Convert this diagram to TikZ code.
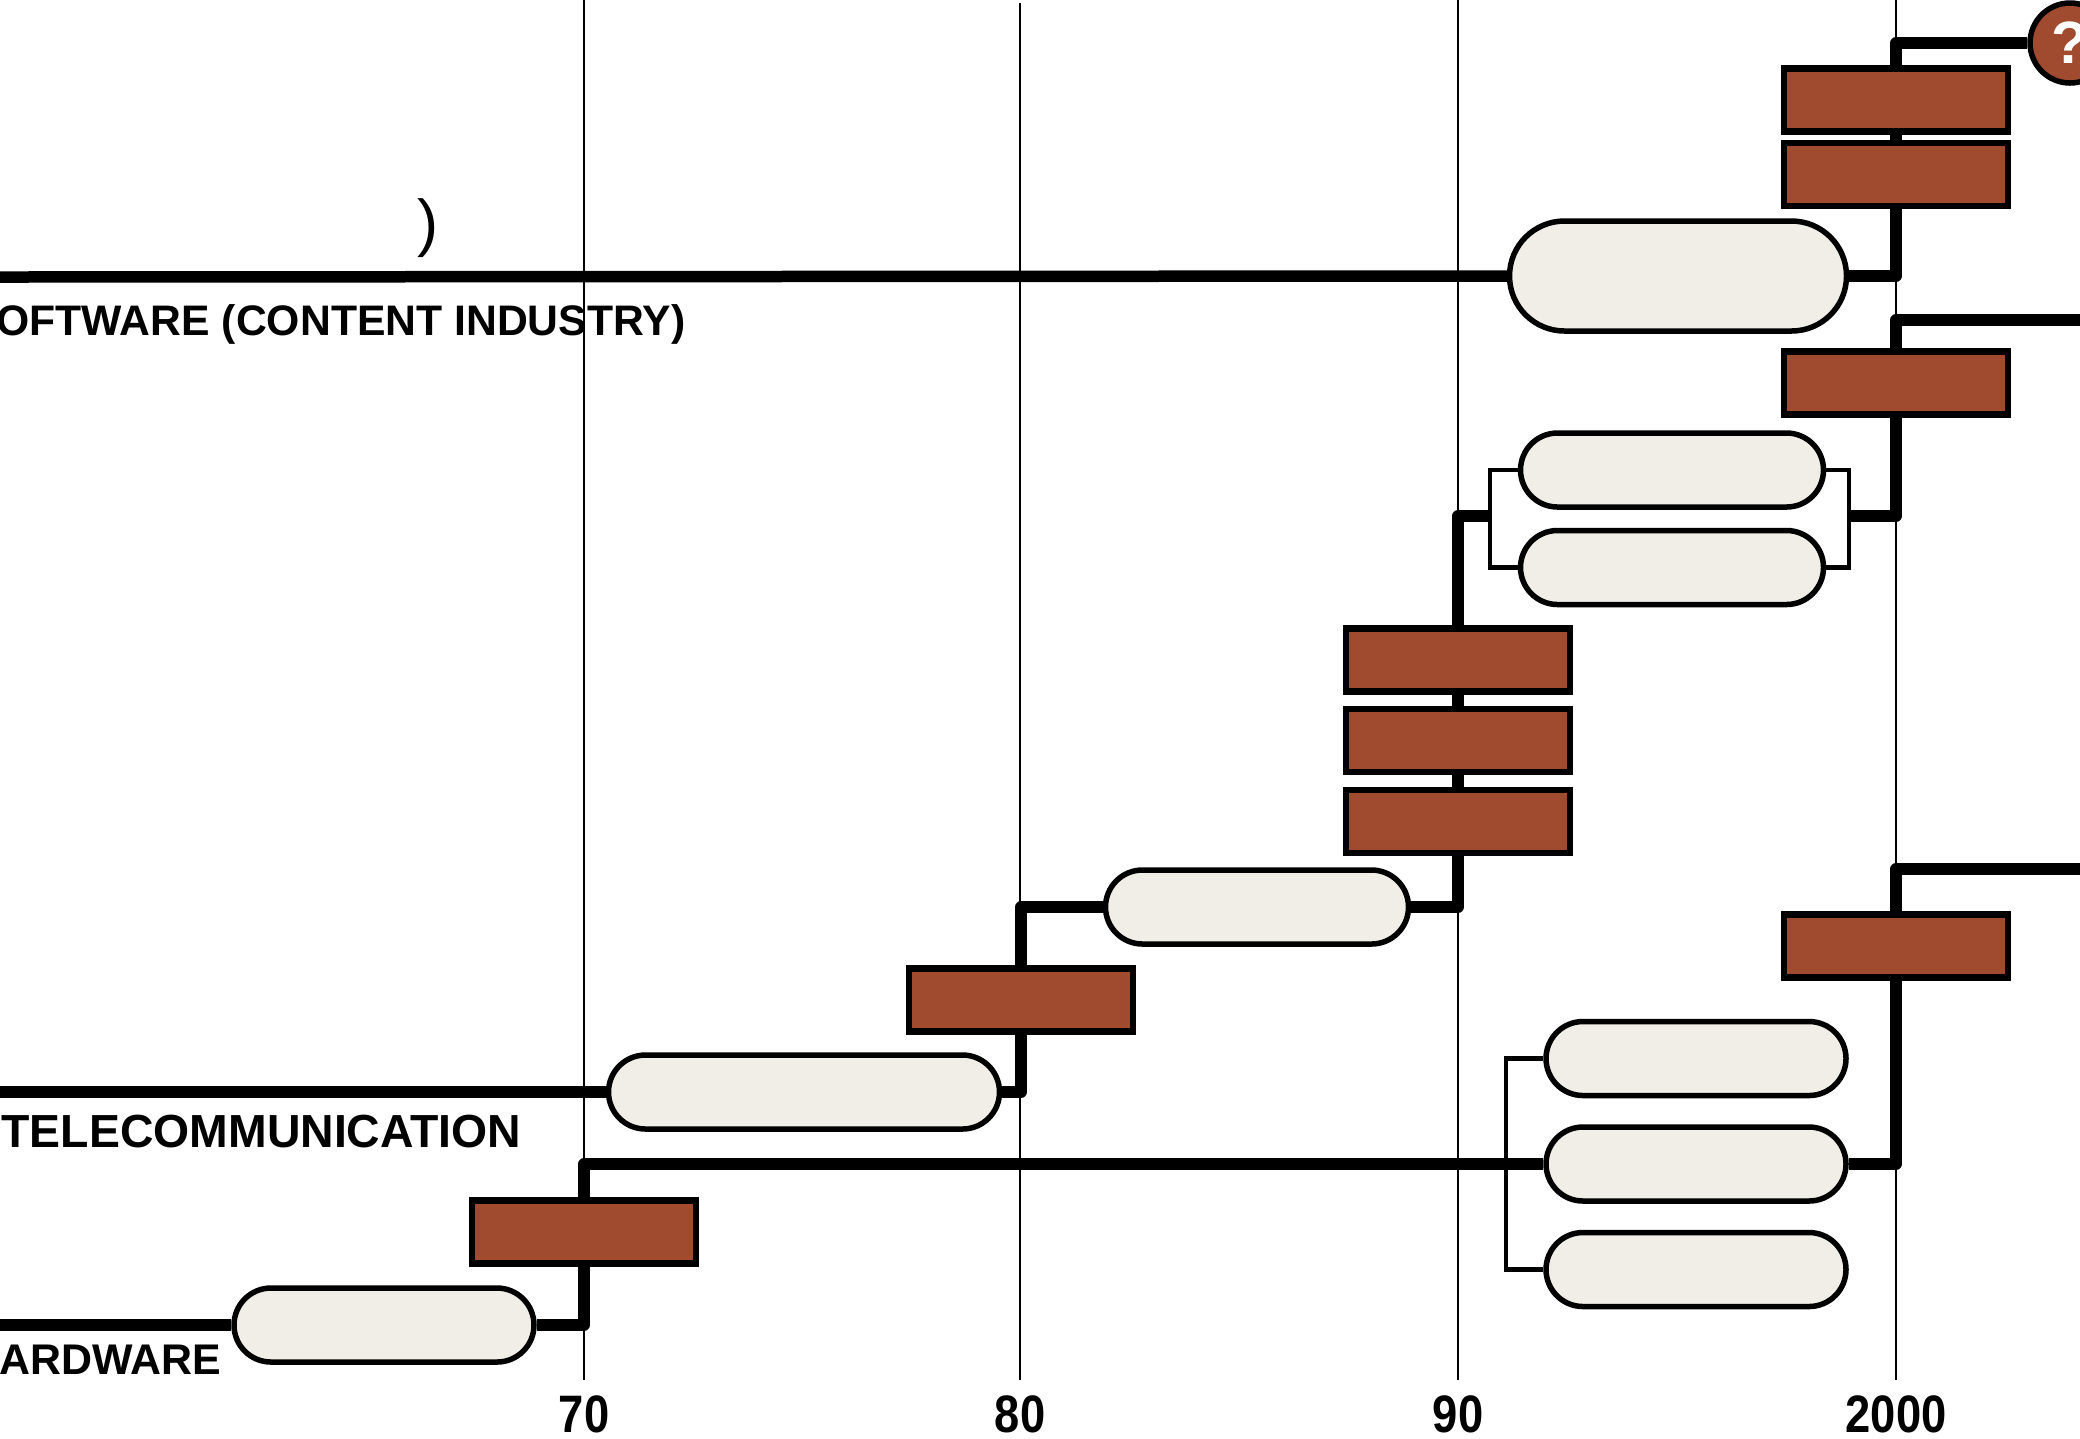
\documentclass[tikz,border=0pt]{standalone}
\usepackage{graphicx}
\usepackage{fontspec}
\setmainfont{Liberation Sans}
\usetikzlibrary{positioning}
\definecolor{brick}{RGB}{160,74,47}
\definecolor{shell}{RGB}{241,238,231}
\tikzset{era/.style={draw, line width=0.62mm, fill=brick, minimum width=22.4mm,
        minimum height=6.3mm, inner sep=0pt},
    phase/.style={draw, line width=0.55mm, fill=shell, rounded corners=3.7mm,
        minimum width=30mm, minimum height=7.4mm, inner sep=0pt},
    track/.style={line width=1.15mm, line join=round},
    link/.style={line width=0.45mm},
    grid/.style={line width=0.17mm},
    lane/.style={font=\bfseries\fontsize{12.15}{14}\selectfont, inner sep=0pt},
    year/.style={font=\bfseries\fontsize{15}{18}\selectfont, inner sep=0pt}}

\begin{document}
\begin{tikzpicture}[x=0.1mm, y=-0.1mm, node distance=1.15mm]
    \useasboundingbox (0,0) rectangle (2080,1438);
    \clip (0,0) rectangle (2080,1438);
    % decades
    \foreach \x/\yr/\top in {584/70/0, 1020/80/3, 1458/90/0, 1896/2000/0} {
        \draw[grid] (\x,\top) -- (\x,1380);
        \node[year, anchor=base] (y\yr) at (\x,1432) {\scalebox{0.86}[1]{\yr}};
    }
    \coordinate (swleft) at (0,277);
    \coordinate (teleleft) at (0,1092);
    \coordinate (hwleft) at (0,1325);
    \coordinate (webright) at (2080,320);
    \coordinate (hwright) at (2080,869);
    \coordinate (rb) at (1849,516);
    \coordinate (lb) at (1490,516);
    \coordinate (lowbr) at (1506,1164);

    % lanes
    \node[lane, anchor=base east] (software) at (686,335) {SOFTWARE (CONTENT INDUSTRY)};
    \node[lane, font=\bfseries\fontsize{13.2}{16}\selectfont, anchor=base east] (telecom) at (522,1147) {TELECOMMUNICATION};
    \node[lane, font=\bfseries\fontsize{12.2}{14}\selectfont, anchor=base east] (hardware) at (222,1374) {HARDWARE};
    \node[inner sep=0pt, font=\fontsize{18}{20}\selectfont] (paren) at (428,228) {)};

    % phases
    \node[phase, minimum width=33.7mm, minimum height=11mm, rounded corners=5.5mm] (web) at (1678,276) {};
    \node[phase, minimum width=30.3mm] (pa) at (1672,470) {};
    \node[phase, minimum width=30.3mm, below=1.8mm of pa] (pb) {};
    \node[phase, minimum width=30.3mm] (mid) at (1257,907) {};
    \node[phase, minimum width=39.1mm] (tele) at (804,1092) {};
    \node[phase] (hw) at (384,1325) {};
    \node[phase] (l2) at (1696,1164) {};
    \node[phase, above=2.6mm of l2] (l1) {};
    \node[phase, below=2.6mm of l2] (l3) {};

    % eras
    \node[era] (t1) at (1896,100) {};
    \node[era, below=0.5mm of t1] (t2) {};
    \node[era] (m2000) at (1896,383) {};
    \node[era] (n1) at (1458,660) {};
    \node[era, below=of n1] (n2) {};
    \node[era, below=of n2] (n3) {};
    \node[era] (e80) at (1021,1000) {};
    \node[era] (e70) at (584,1232) {};
    \node[era] (h2000) at (1896,946) {};
    \node[circle, draw, line width=0.55mm, fill=brick, minimum size=8mm, inner sep=0pt,
        text=white, font=\bfseries\fontsize{17}{18}\selectfont] (q) at (2070,43) {?};

    % software
    \draw[track] (swleft) -- (web.west);
    \draw[track] (web.east) -| (t2.south);
    \draw[track] (t2.north) -- (t1.south);
    \draw[track] (t1.north) |- (q.west);

    % telecommunication
    \draw[track] (teleleft) -- (tele.west);
    \draw[track] (tele.east) -| (e80.south);
    \draw[track] (e80.north) |- (mid.west);
    \draw[track] (mid.east) -| (n3.south);
    \draw[track] (n3.north) -- (n2.south);
    \draw[track] (n2.north) -- (n1.south);
    \draw[track] (n1.north) |- (lb);
    \draw[link] (pa.west) -| (lb) |- (pb.west);
    \draw[link] (pa.east) -| (rb) |- (pb.east);
    \draw[track] (rb) -| (m2000.south);
    \draw[track] (m2000.north) |- (webright);

    % hardware
    \draw[track] (hwleft) -- (hw.west);
    \draw[track] (hw.east) -| (e70.south);
    \draw[link] (l1.west) -| (lowbr) |- (l3.west);
    \draw[track] (e70.north) |- (l2.west);
    \draw[track] (l2.east) -| (h2000.south);
    \draw[track] (h2000.north) |- (hwright);
\end{tikzpicture}
\end{document}
